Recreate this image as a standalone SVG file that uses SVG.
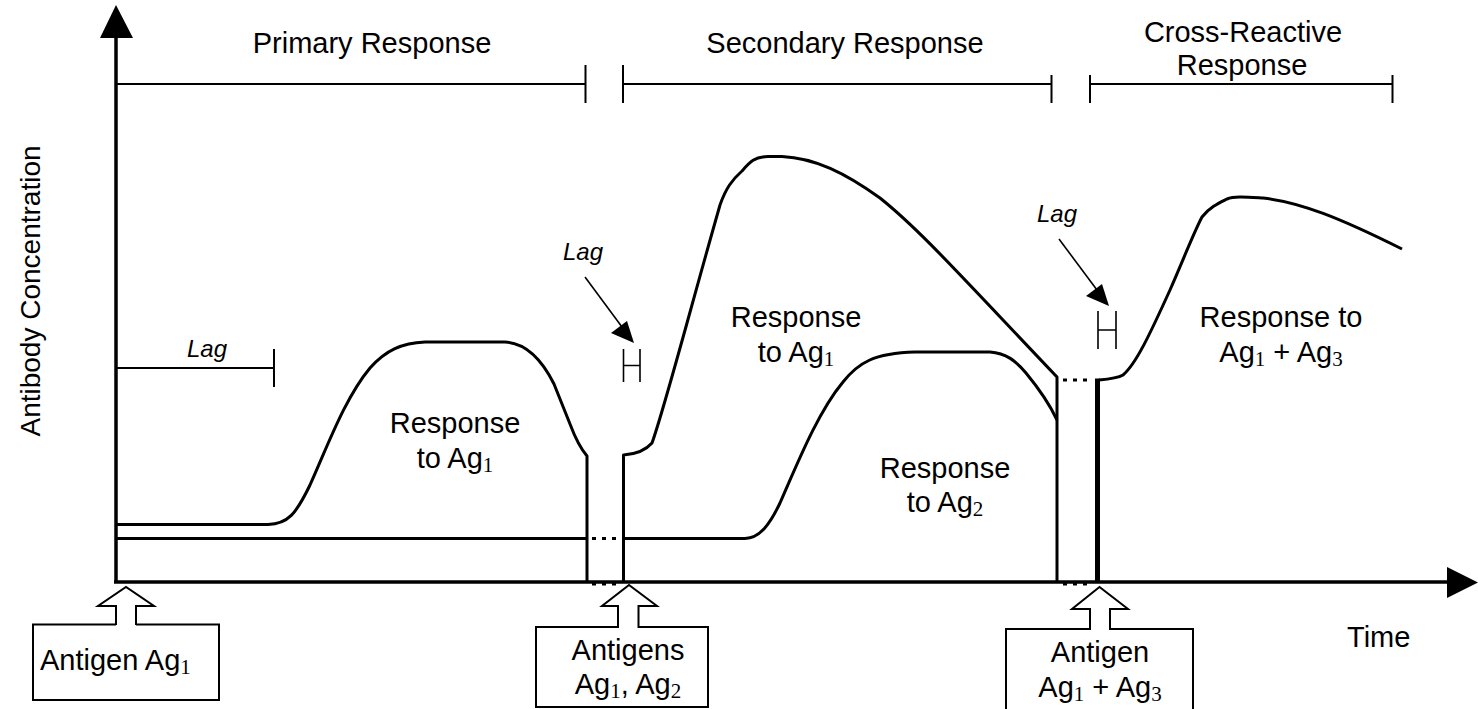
<svg xmlns="http://www.w3.org/2000/svg" width="1478" height="709" viewBox="0 0 1478 709">
<style>
.t{font-family:"Liberation Sans",Arial,sans-serif;font-size:29px;fill:#000}
.c{text-anchor:middle}
.s{font-family:"Liberation Serif","Times New Roman",serif;font-size:21px}
.lag{font-family:"Liberation Sans",Arial,sans-serif;font-size:24px;font-style:italic;fill:#000;text-anchor:middle}
.ax{stroke:#000;stroke-width:3.5;fill:none}
.cv{stroke:#000;stroke-width:3;fill:none;stroke-linejoin:round}
.br{stroke:#000;stroke-width:2;fill:none}
.thin{stroke:#000;stroke-width:1.6;fill:none}
.dot{stroke:#000;stroke-width:3;stroke-dasharray:4 6;fill:none}
.box{stroke:#000;stroke-width:2;fill:#fff}
</style>
<rect width="1478" height="709" fill="#fff"/>
<g id="axes">
<line class="ax" x1="116" y1="583" x2="116" y2="36"/>
<polygon points="116,5 100,38 133,38" fill="#000"/>
<line class="ax" x1="114" y1="582" x2="1449" y2="582"/>
<polygon points="1478,582.5 1447,567 1447,598" fill="#000"/>
<text class="t c" font-size="28" transform="rotate(-90 40 291)" x="40" y="291" style="font-size:28px">Antibody Concentration</text>
<text class="t" x="1347" y="647">Time</text>
</g>
<g id="phase-brackets">
<path class="br" d="M116,84 H585.5 M585.5,65 V103 M623,65 V103 M623,84 H1051.5 M1051.5,75 V103 M1090,75 V103 M1090,84 H1392.5 M1392.5,75 V103"/>
<text class="t c" x="372" y="53">Primary Response</text>
<text class="t c" x="845" y="53">Secondary Response</text>
<text class="t c" x="1243" y="42">Cross-Reactive</text>
<text class="t c" x="1242" y="75">Response</text>
</g>
<g id="lag-markers">
<path class="br" d="M116,368 H274 M274,349 V387"/>
<text class="lag" x="207" y="357">Lag</text>
<text class="lag" x="583" y="260">Lag</text>
<line class="thin" x1="585" y1="277" x2="622" y2="327"/>
<polygon points="634,343 611,333 627,321" fill="#000"/>
<path class="thin" d="M623.5,349 V382 M640,349 V382 M623.5,365.5 H640"/>
<text class="lag" x="1057" y="222">Lag</text>
<line class="thin" x1="1059" y1="239" x2="1097" y2="290"/>
<polygon points="1109,306 1086,296 1102,284" fill="#000"/>
<path class="thin" d="M1098,311 V349 M1116,311 V349 M1098,330 H1116"/>
</g>
<g id="connectors">
<path id="primary-ag1" class="cv" d="M116,524.5 L268,524.5 C288,524 296,514 310,485 C328,445 345,398 370,368 C386,350 402,343 425,342 L505,342 C524,343 540,356 554,384 L570,424 C576,440 581,449 587,456 L587,582"/>
<line class="cv" x1="116" y1="538.5" x2="587" y2="538.5"/>
<path id="secondary-ag1" class="cv" d="M623.5,582 L623.5,455 C637,454 646,450 652,443 C664,410 690,310 720,205 C726,188 732,180 742,171 C750,162 754,157 768,156.5 L782,156.5 C815,158 845,173 880,198 C920,230 960,275 1057,377 L1057,582"/>
<path id="secondary-ag2" class="cv" d="M623.5,538.5 H745 C760,538 770,524 780,503 C798,462 818,412 843,382 C858,363 874,353 915,352 L990,352 C1006,353 1016,361 1026,373 C1040,390 1050,405 1057,420"/>
<path id="cross-ag1ag3" class="cv" d="M1099,380 C1110,379 1118,378 1123,375 C1136,364 1150,334 1170,290 C1184,258 1194,232 1202,217 C1210,207 1219,203 1227,199 C1234,196 1246,197 1263,198 C1300,202 1340,218 1402,249"/>
<line x1="1097.5" y1="378.5" x2="1097.5" y2="583" stroke="#000" stroke-width="5"/>
<line class="dot" x1="592" y1="538.5" x2="620" y2="538.5"/>
<line class="dot" x1="592" y1="584" x2="620" y2="584"/>
<line class="dot" x1="1063" y1="380" x2="1092" y2="380"/>
<line class="dot" x1="1063" y1="584" x2="1092" y2="584"/>
</g>
<g id="label-primary">
<text class="t c" x="455" y="433">Response</text>
<text class="t c" x="455" y="468">to Ag<tspan class="s" dy="4">1</tspan></text>
</g>
<g id="label-secondary-ag1">
<text class="t c" x="796" y="327">Response</text>
<text class="t c" x="796" y="362">to Ag<tspan class="s" dy="4">1</tspan></text>
</g>
<g id="label-secondary-ag2">
<text class="t c" x="945" y="478">Response</text>
<text class="t c" x="945" y="512">to Ag<tspan class="s" dy="4">2</tspan></text>
</g>
<g id="label-cross">
<text class="t c" x="1281" y="327">Response to</text>
<text class="t c" x="1281" y="362">Ag<tspan class="s" dy="4">1</tspan><tspan dy="-4"> + Ag</tspan><tspan class="s" dy="4">3</tspan></text>
</g>
<g id="box-antigen-ag1">
<path class="box" d="M136,624.5 H219 V700 H33 V624.5 H116"/>
<path class="box" d="M116,625 V606 H98 L126,587 L154,606 H136 V625"/>
<text class="t" x="40" y="670">Antigen Ag<tspan class="s" dy="4">1</tspan></text>
</g>
<g id="box-antigens-ag1-ag2">
<path class="box" d="M638.5,627 H708 V707 H536 V627 H618"/>
<path class="box" d="M618,628 V606 H602 L629,585 L657,606 H638.5 V628"/>
<text class="t c" x="628" y="660">Antigens</text>
<text class="t c" x="628" y="694">Ag<tspan class="s" dy="4">1</tspan><tspan dy="-4">, Ag</tspan><tspan class="s" dy="4">2</tspan></text>
</g>
<g id="box-antigen-ag1-ag3">
<path class="box" d="M1110,629 H1193 V715 H1006 V629 H1090"/>
<path class="box" d="M1090,630 V609 H1072 L1099.5,587 L1128,609 H1110 V630"/>
<text class="t c" x="1100" y="662">Antigen</text>
<text class="t c" x="1100" y="697">Ag<tspan class="s" dy="4">1</tspan><tspan dy="-4"> + Ag</tspan><tspan class="s" dy="4">3</tspan></text>
</g>
</svg>
